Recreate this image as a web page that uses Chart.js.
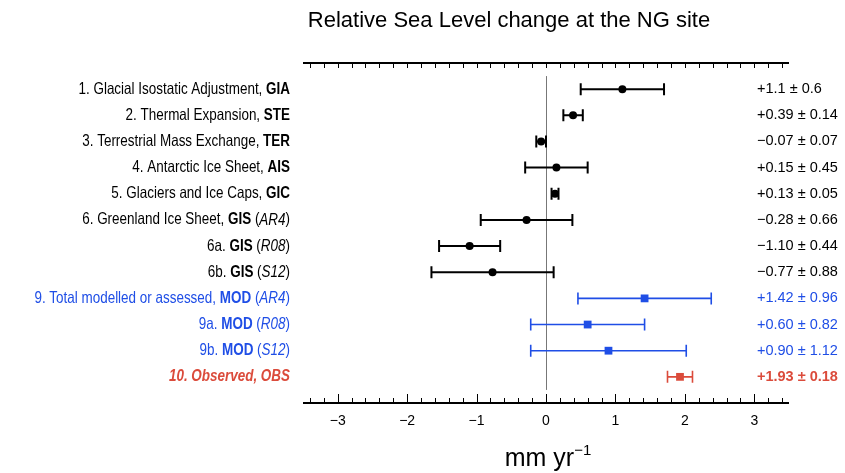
<!DOCTYPE html>
<html>
<head>
<meta charset="utf-8">
<script src="https://cdn.jsdelivr.net/npm/chart.js@4.4.1/dist/chart.umd.min.js"></script>
<style>
  html, body { margin: 0; padding: 0; background: #fff; }
  #wrap { width: 845px; height: 473px; }
</style>
</head>
<body>
<div id="wrap"><canvas id="rslChart"></canvas></div>
<script>
// row data, top to bottom
const prefixes = ['1. Glacial Isostatic Adjustment, ', '2. Thermal Expansion, ', '3. Terrestrial Mass Exchange, ',
  '4. Antarctic Ice Sheet, ', '5. Glaciers and Ice Caps, ', '6. Greenland Ice Sheet, ', '6a. ', '6b. ',
  '9. Total modelled or assessed, ', '9a. ', '9b. ', '10. Observed, '];
const codes = ['GIA', 'STE', 'TER', 'AIS', 'GIC', 'GIS', 'GIS', 'GIS', 'MOD', 'MOD', 'MOD', 'OBS'];
const sources = ['', '', '', '', '', 'AR4', 'R08', 'S12', 'AR4', 'R08', 'S12', ''];
const groups = ['component', 'component', 'component', 'component', 'component', 'component', 'component', 'component',
  'model', 'model', 'model', 'observed'];
const rates = [1.1, 0.39, -0.07, 0.15, 0.13, -0.28, -1.10, -0.77, 1.42, 0.60, 0.90, 1.93];
const errors = [0.6, 0.14, 0.07, 0.45, 0.05, 0.66, 0.44, 0.88, 0.96, 0.82, 1.12, 0.18];
const decimals = [1, 2, 2, 2, 2, 2, 2, 2, 2, 2, 2, 2];
const xTicks = [-3, -2, -1, 0, 1, 2, 3];

const colours = { component: '#000000', model: '#1f4ee6', observed: '#db4b3b' };
const FONT = '"Liberation Sans", Arial, Helvetica, sans-serif';

function fmt(v, d) {
  let s = Math.abs(v).toFixed(d);
  return (v < 0 ? '\u2212' : '+') + s;
}

function groupData(g) {
  let pts = [];
  for (let i = 0; i < rates.length; i++) {
    if (groups[i] === g) pts.push({ x: rates[i], y: i + 1 });
  }
  return pts;
}

// error bars, axes and zero line go under the points
const underPlugin = {
  id: 'under',
  beforeDatasetsDraw(chart) {
    const ctx = chart.ctx;
    const xs = chart.scales.x, ys = chart.scales.y;
    const area = chart.chartArea;
    ctx.save();

    // zero line
    ctx.strokeStyle = '#777';
    ctx.lineWidth = 1;
    ctx.beginPath();
    ctx.moveTo(Math.round(xs.getPixelForValue(0)) + 0.5, ys.getPixelForValue(0.5));
    ctx.lineTo(Math.round(xs.getPixelForValue(0)) + 0.5, ys.getPixelForValue(12.5));
    ctx.stroke();

    // error bars
    for (let i = 0; i < rates.length; i++) {
      let y = ys.getPixelForValue(i + 1);
      let x1 = xs.getPixelForValue(rates[i] - errors[i]);
      let x2 = xs.getPixelForValue(rates[i] + errors[i]);
      ctx.strokeStyle = colours[groups[i]];
      ctx.lineWidth = groups[i] === 'component' ? 2 : 1.6;
      ctx.beginPath();
      ctx.moveTo(x1, y); ctx.lineTo(x2, y);
      ctx.moveTo(x1, y - 6); ctx.lineTo(x1, y + 6);
      ctx.moveTo(x2, y - 6); ctx.lineTo(x2, y + 6);
      ctx.stroke();
    }

    // top and bottom axes with inward ticks
    ctx.strokeStyle = '#000';
    ctx.lineWidth = 2;
    ctx.beginPath();
    ctx.moveTo(area.left, area.top); ctx.lineTo(area.right, area.top);
    ctx.moveTo(area.left, area.bottom); ctx.lineTo(area.right, area.bottom);
    ctx.stroke();
    ctx.lineWidth = 1;
    ctx.beginPath();
    for (let k = -17; k <= 17; k++) {
      let v = k / 5;
      let px = Math.round(xs.getPixelForValue(v)) + 0.5;
      let major = k % 5 === 0;
      ctx.moveTo(px, area.top); ctx.lineTo(px, area.top + 5);
      ctx.moveTo(px, area.bottom); ctx.lineTo(px, area.bottom - (major ? 9 : 5));
    }
    ctx.stroke();

    // tick labels
    ctx.fillStyle = '#000';
    ctx.font = '14px ' + FONT;
    ctx.textAlign = 'center';
    ctx.textBaseline = 'middle';
    xTicks.forEach(function(t) {
      let s = t < 0 ? '\u2212' + Math.abs(t) : String(t);
      ctx.fillText(s, xs.getPixelForValue(t), area.bottom + 18);
    });
    ctx.restore();
  },
  afterDraw(chart) {
    const ctx = chart.ctx;
    const xs = chart.scales.x, ys = chart.scales.y;
    ctx.save();
    ctx.textBaseline = 'middle';

    for (let i = 0; i < rates.length; i++) {
      let y = ys.getPixelForValue(i + 1);
      let col = colours[groups[i]];
      let obs = groups[i] === 'observed';
      let segs;
      if (obs) {
        segs = [{ t: prefixes[i] + codes[i], f: 'italic bold 16.5px ' }];
      } else {
        segs = [{ t: prefixes[i], f: '16.5px ' }, { t: codes[i], f: 'bold 16.5px ' }];
        if (sources[i]) {
          segs.push({ t: ' (', f: '16.5px ' });
          segs.push({ t: sources[i], f: 'italic 16.5px ' });
          segs.push({ t: ')', f: '16.5px ' });
        }
      }
      let w = 0;
      segs.forEach(function(s) { ctx.font = s.f + FONT; s.w = ctx.measureText(s.t).width; w += s.w; });
      // the reference lettering is narrower than Liberation Sans, squeeze it
      ctx.save();
      ctx.translate(290, y);
      ctx.scale(0.815, 1);
      let x = -w;
      ctx.fillStyle = col;
      ctx.textAlign = 'left';
      segs.forEach(function(s) { ctx.font = s.f + FONT; ctx.fillText(s.t, x, 0); x += s.w; });
      ctx.restore();

      // value text on the right
      ctx.fillStyle = col;
      ctx.textAlign = 'left';
      ctx.font = (obs ? 'bold ' : '') + '14.5px ' + FONT;
      ctx.fillText(fmt(rates[i], decimals[i]) + ' \u00b1 ' + errors[i].toFixed(decimals[i]), 757, y);
    }

    // title
    ctx.fillStyle = '#000';
    ctx.textAlign = 'center';
    ctx.font = '22px ' + FONT;
    ctx.fillText('Relative Sea Level change at the NG site', 509, 21);

    // axis title mm yr^-1
    ctx.textAlign = 'left';
    ctx.textBaseline = 'alphabetic';
    ctx.font = '25px ' + FONT;
    let main = 'mm yr';
    let mw = ctx.measureText(main).width;
    ctx.font = '15px ' + FONT;
    let sup = '\u22121';
    let sw = ctx.measureText(sup).width;
    let sx = 548 - (mw + sw) / 2;
    ctx.font = '25px ' + FONT;
    ctx.fillText(main, sx, 466);
    ctx.font = '15px ' + FONT;
    ctx.fillText(sup, sx + mw, 455);
    ctx.restore();
  }
};

let elChart = document.getElementById('rslChart').getContext('2d');
let rslChart = new Chart(elChart, {
  type: 'scatter',
  data: {
    datasets: [
      { data: groupData('component'), pointStyle: 'circle', pointRadius: 4, pointHoverRadius: 4,
        backgroundColor: colours.component, borderColor: colours.component, borderWidth: 0 },
      { data: groupData('model'), pointStyle: 'rect', pointRadius: 5.5, pointHoverRadius: 5.5,
        backgroundColor: colours.model, borderColor: colours.model, borderWidth: 0 },
      { data: groupData('observed'), pointStyle: 'rect', pointRadius: 5.5, pointHoverRadius: 5.5,
        backgroundColor: colours.observed, borderColor: colours.observed, borderWidth: 0 }
    ]
  },
  options: {
    responsive: true,
    maintainAspectRatio: false,
    animation: false,
    events: [],
    layout: { padding: { left: 303, right: 56, top: 63, bottom: 70 } },
    plugins: { legend: { display: false }, tooltip: { enabled: false } },
    scales: {
      x: { type: 'linear', min: -3.5, max: 3.5, display: false },
      y: { type: 'linear', min: 0, max: 13, reverse: true, display: false }
    }
  },
  plugins: [underPlugin]
});
</script>
</body>
</html>
